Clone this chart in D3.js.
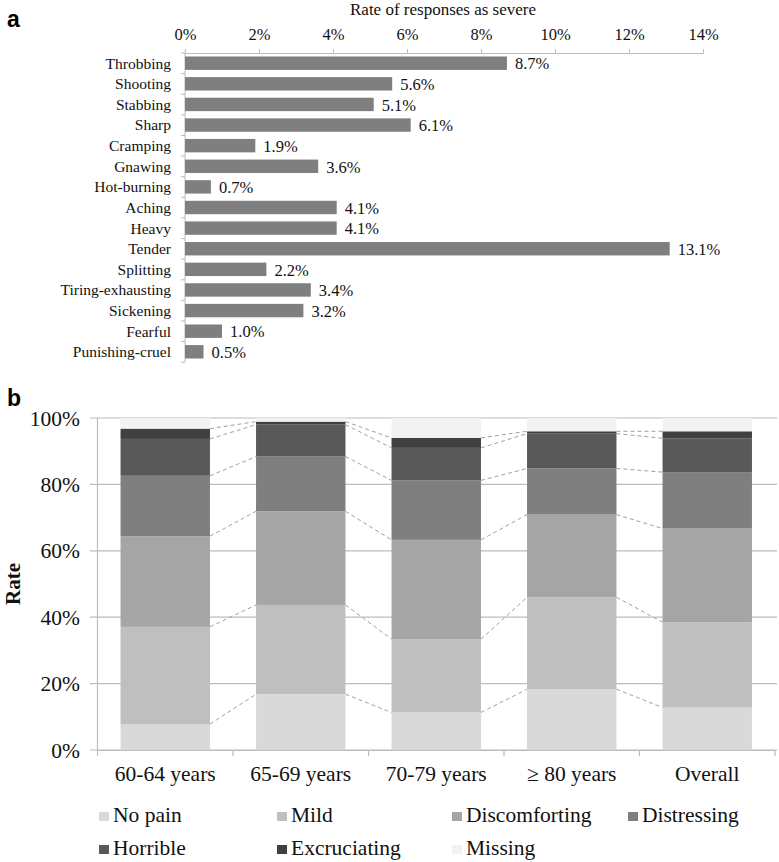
<!DOCTYPE html>
<html>

<head>
  <meta charset="utf-8">
  <title>Pain descriptors and severity</title>
  <script src="https://cdn.jsdelivr.net/npm/d3@7"></script>
  <style>
    body { margin: 0; background: #fff; }
    svg { display: block; font-family: "Liberation Serif", "Times New Roman", serif; }
    svg text { font-family: "Liberation Serif", "Times New Roman", serif; }
    svg text.panel-letter { font-family: "Liberation Sans", Arial, sans-serif; font-weight: bold; }
  </style>
</head>

<body>
  <svg width="779" height="862"></svg>
  <script>
    // panel a: rate of responses as severe
    var descriptors = ["Throbbing", "Shooting", "Stabbing", "Sharp", "Cramping", "Gnawing", "Hot-burning",
      "Aching", "Heavy", "Tender", "Splitting", "Tiring-exhausting", "Sickening", "Fearful", "Punishing-cruel"];
    var severeRates = [8.7, 5.6, 5.1, 6.1, 1.9, 3.6, 0.7, 4.1, 4.1, 13.1, 2.2, 3.4, 3.2, 1.0, 0.5];
    var rateTicks = [0, 2, 4, 6, 8, 10, 12, 14];

    // panel b: severity by age group
    var ageGroups = ["60-64 years", "65-69 years", "70-79 years", "\u2265 80 years", "Overall"];
    var levels = ["No pain", "Mild", "Discomforting", "Distressing", "Horrible", "Excruciating", "Missing"];
    var noPain = [7.8, 16.8, 11.3, 18.3, 12.8];
    var mild = [29.3, 26.9, 22.1, 27.7, 25.7];
    var discomforting = [27.3, 28.2, 29.9, 24.9, 28.2];
    var distressing = [18.2, 16.5, 17.9, 13.9, 17.0];
    var horrible = [11.1, 9.6, 9.8, 10.5, 10.2];
    var excruciating = [3.1, 0.9, 3.0, 0.7, 2.1];
    var missing = [3.2, 1.1, 6.0, 4.0, 4.0];
    var pctTicks = [0, 20, 40, 60, 80, 100];

    var levelColors = ["#d9d9d9", "#bfbfbf", "#a5a5a5", "#7f7f7f", "#595959", "#404040", "#f2f2f2"];
    var serif = "'Liberation Serif', 'Times New Roman', serif";

    var svg = d3.select("svg");

    // ---------- panel a ----------
    var ga = svg.append("g");
    ga.append("text").attr("class", "panel-letter").attr("x", 7).attr("y", 27)
      .attr("font-size", 23).text("a");

    var xa = d3.scaleLinear().domain([0, 14]).range([185, 703]);
    var ya = d3.scaleBand().domain(descriptors).range([53, 362]).paddingInner(0.35).paddingOuter(0.17);

    ga.append("text")
      .attr("x", 443).attr("y", 15)
      .attr("text-anchor", "middle")
      .attr("font-size", 17)
      .attr("fill", "#111")
      .text("Rate of responses as severe");

    var topAxis = ga.append("g")
      .attr("transform", "translate(0,53)")
      .call(d3.axisTop(xa).tickValues(rateTicks).tickFormat(function (d) { return d + "%"; })
        .tickSize(4).tickSizeOuter(4));
    topAxis.select(".domain").attr("stroke", "#bcbcbc");
    topAxis.selectAll(".tick line").attr("stroke", "#bcbcbc");
    topAxis.selectAll(".tick text")
      .attr("y", -13).attr("dy", 0)
      .attr("font-size", 16.5).attr("fill", "#111")
      .attr("font-family", serif);

    // left category axis with ticks at band boundaries
    ga.append("line")
      .attr("x1", 185).attr("x2", 185).attr("y1", 53).attr("y2", 362)
      .attr("stroke", "#bcbcbc");
    d3.range(descriptors.length + 1).forEach(function (i) {
      var yy = 53 + i * ya.step();
      ga.append("line").attr("x1", 181).attr("x2", 185).attr("y1", yy).attr("y2", yy)
        .attr("stroke", "#bcbcbc");
    });

    ga.selectAll(".cat")
      .data(descriptors)
      .enter()
      .append("text")
      .attr("x", 171)
      .attr("y", function (d) { return ya(d) + ya.bandwidth() / 2; })
      .attr("dy", "0.35em")
      .attr("text-anchor", "end")
      .attr("font-size", 15.5)
      .attr("fill", "#111")
      .text(function (d) { return d; });

    ga.selectAll(".bar")
      .data(descriptors)
      .enter()
      .append("rect")
      .attr("x", xa(0))
      .attr("y", function (d) { return ya(d); })
      .attr("width", function (d, i) { return xa(severeRates[i]) - xa(0); })
      .attr("height", ya.bandwidth())
      .attr("fill", "#7f7f7f");

    ga.selectAll(".val")
      .data(descriptors)
      .enter()
      .append("text")
      .attr("x", function (d, i) { return xa(severeRates[i]) + 8; })
      .attr("y", function (d) { return ya(d) + ya.bandwidth() / 2; })
      .attr("dy", "0.38em")
      .attr("font-size", 16.5)
      .attr("fill", "#111")
      .text(function (d, i) { return severeRates[i].toFixed(1) + "%"; });

    // ---------- panel b ----------
    var gb = svg.append("g");
    gb.append("text").attr("class", "panel-letter").attr("x", 7).attr("y", 406)
      .attr("font-size", 23).text("b");

    var xb = d3.scaleBand().domain(ageGroups).range([97.5, 775]).paddingInner(0.34).paddingOuter(0.17);
    var yb = d3.scaleLinear().domain([0, 100]).range([750, 418]);

    // gridlines
    gb.selectAll(".grid")
      .data(pctTicks)
      .enter()
      .append("line")
      .attr("x1", 90).attr("x2", 777)
      .attr("y1", function (d) { return yb(d); })
      .attr("y2", function (d) { return yb(d); })
      .attr("stroke", "#bcbcbc")
      .attr("stroke-width", 1.2);

    gb.selectAll(".ytick")
      .data(pctTicks)
      .enter()
      .append("text")
      .attr("x", 80)
      .attr("y", function (d) { return yb(d); })
      .attr("dy", "0.35em")
      .attr("text-anchor", "end")
      .attr("font-size", 21.5)
      .attr("fill", "#111")
      .text(function (d) { return d + "%"; });

    gb.append("text")
      .attr("transform", "translate(20,584) rotate(-90)")
      .attr("text-anchor", "middle")
      .attr("font-size", 21)
      .attr("font-weight", "bold")
      .attr("fill", "#111")
      .text("Rate");

    // stacked bars
    var series = [noPain, mild, discomforting, distressing, horrible, excruciating, missing];
    var rows = ageGroups.map(function (g, i) {
      var r = { group: g };
      levels.forEach(function (l, j) { r[l] = series[j][i]; });
      return r;
    });
    var stacked = d3.stack().keys(levels)(rows);

    gb.selectAll(".layer")
      .data(stacked)
      .enter()
      .append("g")
      .attr("fill", function (d, i) { return levelColors[i]; })
      .selectAll("rect")
      .data(function (d) { return d; })
      .enter()
      .append("rect")
      .attr("x", function (d) { return xb(d.data.group); })
      .attr("y", function (d) { return yb(d[1]); })
      .attr("width", xb.bandwidth())
      .attr("height", function (d) { return yb(d[0]) - yb(d[1]); });

    // dashed connectors between neighbouring bars
    stacked.slice(0, levels.length - 1).forEach(function (layer) {
      for (var i = 0; i < ageGroups.length - 1; i++) {
        gb.append("line")
          .attr("x1", xb(ageGroups[i]) + xb.bandwidth())
          .attr("x2", xb(ageGroups[i + 1]))
          .attr("y1", yb(layer[i][1]))
          .attr("y2", yb(layer[i + 1][1]))
          .attr("stroke", "#a0a0a0")
          .attr("stroke-width", 1)
          .attr("stroke-dasharray", "4,3");
      }
    });

    // axes lines
    gb.append("line").attr("x1", 97.5).attr("x2", 97.5).attr("y1", 418).attr("y2", 750)
      .attr("stroke", "#bcbcbc").attr("stroke-width", 1.2);
    var xAxis = gb.append("g")
      .attr("transform", "translate(0,750)")
      .call(d3.axisBottom(xb).tickSize(0).tickSizeOuter(0));
    xAxis.select(".domain").attr("stroke", "#bcbcbc").attr("stroke-width", 1.2);
    xAxis.selectAll(".tick text")
      .attr("y", 31).attr("dy", 0)
      .attr("font-size", 21.5).attr("fill", "#111")
      .attr("font-family", serif);
    d3.range(ageGroups.length + 1).forEach(function (i) {
      var xx = 97.5 + i * xb.step();
      gb.append("line").attr("x1", xx).attr("x2", xx).attr("y1", 750).attr("y2", 756)
        .attr("stroke", "#bcbcbc").attr("stroke-width", 1.2);
    });

    // legend
    var legendCols = [99, 277, 452, 628];
    var legend = gb.selectAll(".leg")
      .data(levels)
      .enter()
      .append("g")
      .attr("transform", function (d, i) {
        return "translate(" + legendCols[i % 4] + "," + (i < 4 ? 822 : 855) + ")";
      });
    legend.append("rect")
      .attr("x", 0).attr("y", -10).attr("width", 10).attr("height", 9)
      .attr("fill", function (d, i) { return levelColors[i]; });
    legend.append("text")
      .attr("x", 14)
      .attr("y", 0)
      .attr("font-size", 21.5)
      .attr("fill", "#111")
      .text(function (d) { return d; });
  </script>
</body>

</html>
